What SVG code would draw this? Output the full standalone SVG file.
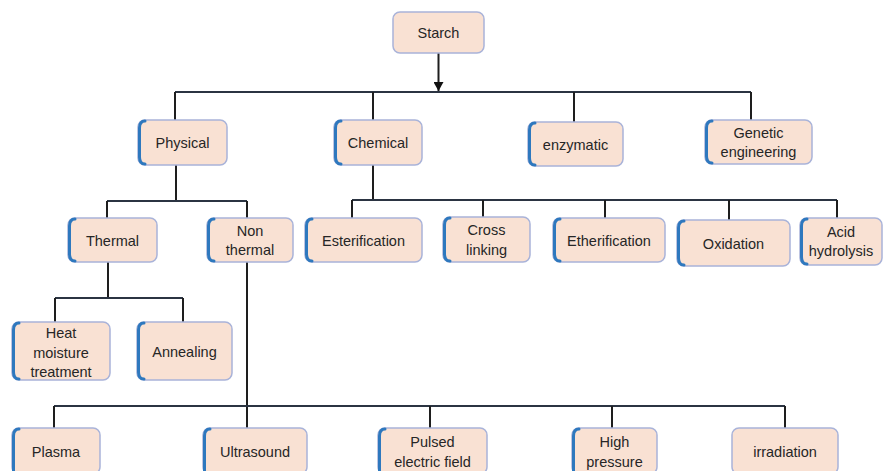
<svg xmlns="http://www.w3.org/2000/svg" width="884" height="471" viewBox="0 0 884 471">
<style>
.box{fill:#F9E1D3;stroke:#A9B3D9;stroke-width:1.5}
.lb{fill:none;stroke:#2E78BE;stroke-width:3;stroke-linecap:round}
.t{font-family:"Liberation Sans",Arial,sans-serif;font-size:14.5px;fill:#262626;text-anchor:middle}
.c{fill:none;stroke:#1E1E1E;stroke-width:2}
.h{fill:none;stroke:#2B3442;stroke-width:2}
</style>
<defs>
<marker id="arr" markerWidth="10" markerHeight="10" refX="9" refY="5" orient="auto" markerUnits="userSpaceOnUse" viewBox="0 0 10 10">
<path d="M0,0 L9,5 L0,10 Z" fill="#111"/>
</marker>
</defs>
<rect width="884" height="471" fill="#fff"/>
<g id="connectors">
<path class="c" d="M438.5,53 V91" marker-end="url(#arr)"/>
<path class="h" d="M175,92 H751"/>
<path class="c" d="M175,92 V120 M373,92 V120 M574,92 V122 M751,92 V120"/>
<path class="c" d="M176,165 V201"/>
<path class="h" d="M107,201 H247"/>
<path class="c" d="M107,201 V218 M247,201 V218"/>
<path class="c" d="M373,165 V200"/>
<path class="h" d="M352,200 H837"/>
<path class="c" d="M352,200 V218 M483,200 V217 M605,200 V218 M729,200 V220 M837,200 V218"/>
<path class="c" d="M108,262 V298"/>
<path class="h" d="M55,298 H183"/>
<path class="c" d="M55,298 V322 M183,298 V322"/>
<path class="c" d="M247,262 V428"/>
<path class="h" d="M54,406 H785"/>
<path class="c" d="M54,406 V428 M430,406 V428 M612,406 V428 M785,406 V428"/>
</g>
<g id="starch"><rect class="box" x="393" y="12" width="91" height="41" rx="7"/><text class="t" x="438.5" y="38">Starch</text></g>
<g id="physical"><rect class="box" x="138" y="120" width="89" height="45" rx="7"/><path class="lb" d="M145,121 Q139.5,121 139.5,128 V157 Q139.5,164 145,164"/><text class="t" x="182.5" y="148">Physical</text></g>
<g id="chemical"><rect class="box" x="334" y="120" width="88" height="45" rx="7"/><path class="lb" d="M341,121 Q335.5,121 335.5,128 V157 Q335.5,164 341,164"/><text class="t" x="378" y="148">Chemical</text></g>
<g id="enzymatic"><rect class="box" x="528" y="122" width="95" height="44" rx="7"/><path class="lb" d="M535,123 Q529.5,123 529.5,130 V158 Q529.5,165 535,165"/><text class="t" x="575.5" y="149.5">enzymatic</text></g>
<g id="genetic"><rect class="box" x="705" y="120" width="107" height="44" rx="7"/><path class="lb" d="M712,121 Q706.5,121 706.5,128 V156 Q706.5,163 712,163"/><text class="t" x="758.5" y="138">Genetic</text><text class="t" x="758.5" y="157">engineering</text></g>
<g id="thermal"><rect class="box" x="68" y="218" width="89" height="44" rx="7"/><path class="lb" d="M75,219 Q69.5,219 69.5,226 V254 Q69.5,261 75,261"/><text class="t" x="112.5" y="245.5">Thermal</text></g>
<g id="nonthermal"><rect class="box" x="207" y="218" width="86" height="44" rx="7"/><path class="lb" d="M214,219 Q208.5,219 208.5,226 V254 Q208.5,261 214,261"/><text class="t" x="250" y="236">Non</text><text class="t" x="250" y="255">thermal</text></g>
<g id="esterification"><rect class="box" x="305" y="218" width="117" height="44" rx="7"/><path class="lb" d="M312,219 Q306.5,219 306.5,226 V254 Q306.5,261 312,261"/><text class="t" x="363.5" y="245.5">Esterification</text></g>
<g id="crosslinking"><rect class="box" x="443" y="217" width="87" height="45" rx="7"/><path class="lb" d="M450,218 Q444.5,218 444.5,225 V254 Q444.5,261 450,261"/><text class="t" x="486.5" y="235">Cross</text><text class="t" x="486.5" y="255">linking</text></g>
<g id="etherification"><rect class="box" x="553" y="218" width="112" height="44" rx="7"/><path class="lb" d="M560,219 Q554.5,219 554.5,226 V254 Q554.5,261 560,261"/><text class="t" x="609" y="245.5">Etherification</text></g>
<g id="oxidation"><rect class="box" x="677" y="220" width="113" height="46" rx="7"/><path class="lb" d="M684,221 Q678.5,221 678.5,228 V258 Q678.5,265 684,265"/><text class="t" x="733.5" y="248.5">Oxidation</text></g>
<g id="acidhydrolysis"><rect class="box" x="800" y="218" width="82" height="47" rx="7"/><path class="lb" d="M807,219 Q801.5,219 801.5,226 V257 Q801.5,264 807,264"/><text class="t" x="841" y="237">Acid</text><text class="t" x="841" y="256">hydrolysis</text></g>
<g id="heatmoisture"><rect class="box" x="12" y="322" width="98" height="58" rx="7"/><path class="lb" d="M19,323 Q13.5,323 13.5,330 V372 Q13.5,379 19,379"/><text class="t" x="61" y="338">Heat</text><text class="t" x="61" y="357.5">moisture</text><text class="t" x="61" y="377">treatment</text></g>
<g id="annealing"><rect class="box" x="137" y="322" width="95" height="58" rx="7"/><path class="lb" d="M144,323 Q138.5,323 138.5,330 V372 Q138.5,379 144,379"/><text class="t" x="184.5" y="356.5">Annealing</text></g>
<g id="plasma"><rect class="box" x="12" y="428" width="88" height="46" rx="7"/><path class="lb" d="M19,429 Q13.5,429 13.5,436 V474"/><text class="t" x="56" y="457">Plasma</text></g>
<g id="ultrasound"><rect class="box" x="203" y="428" width="104" height="46" rx="7"/><path class="lb" d="M210,429 Q204.5,429 204.5,436 V474"/><text class="t" x="255" y="457">Ultrasound</text></g>
<g id="pulsed"><rect class="box" x="378" y="428" width="109" height="46" rx="7"/><path class="lb" d="M385,429 Q379.5,429 379.5,436 V474"/><text class="t" x="432.5" y="447">Pulsed</text><text class="t" x="432.5" y="467">electric field</text></g>
<g id="highpressure"><rect class="box" x="572" y="428" width="85" height="46" rx="7"/><path class="lb" d="M579,429 Q573.5,429 573.5,436 V474"/><text class="t" x="614.5" y="447">High</text><text class="t" x="614.5" y="467">pressure</text></g>
<g id="irradiation"><rect class="box" x="732" y="428" width="106" height="46" rx="7"/><text class="t" x="785" y="457">irradiation</text></g>
</svg>
